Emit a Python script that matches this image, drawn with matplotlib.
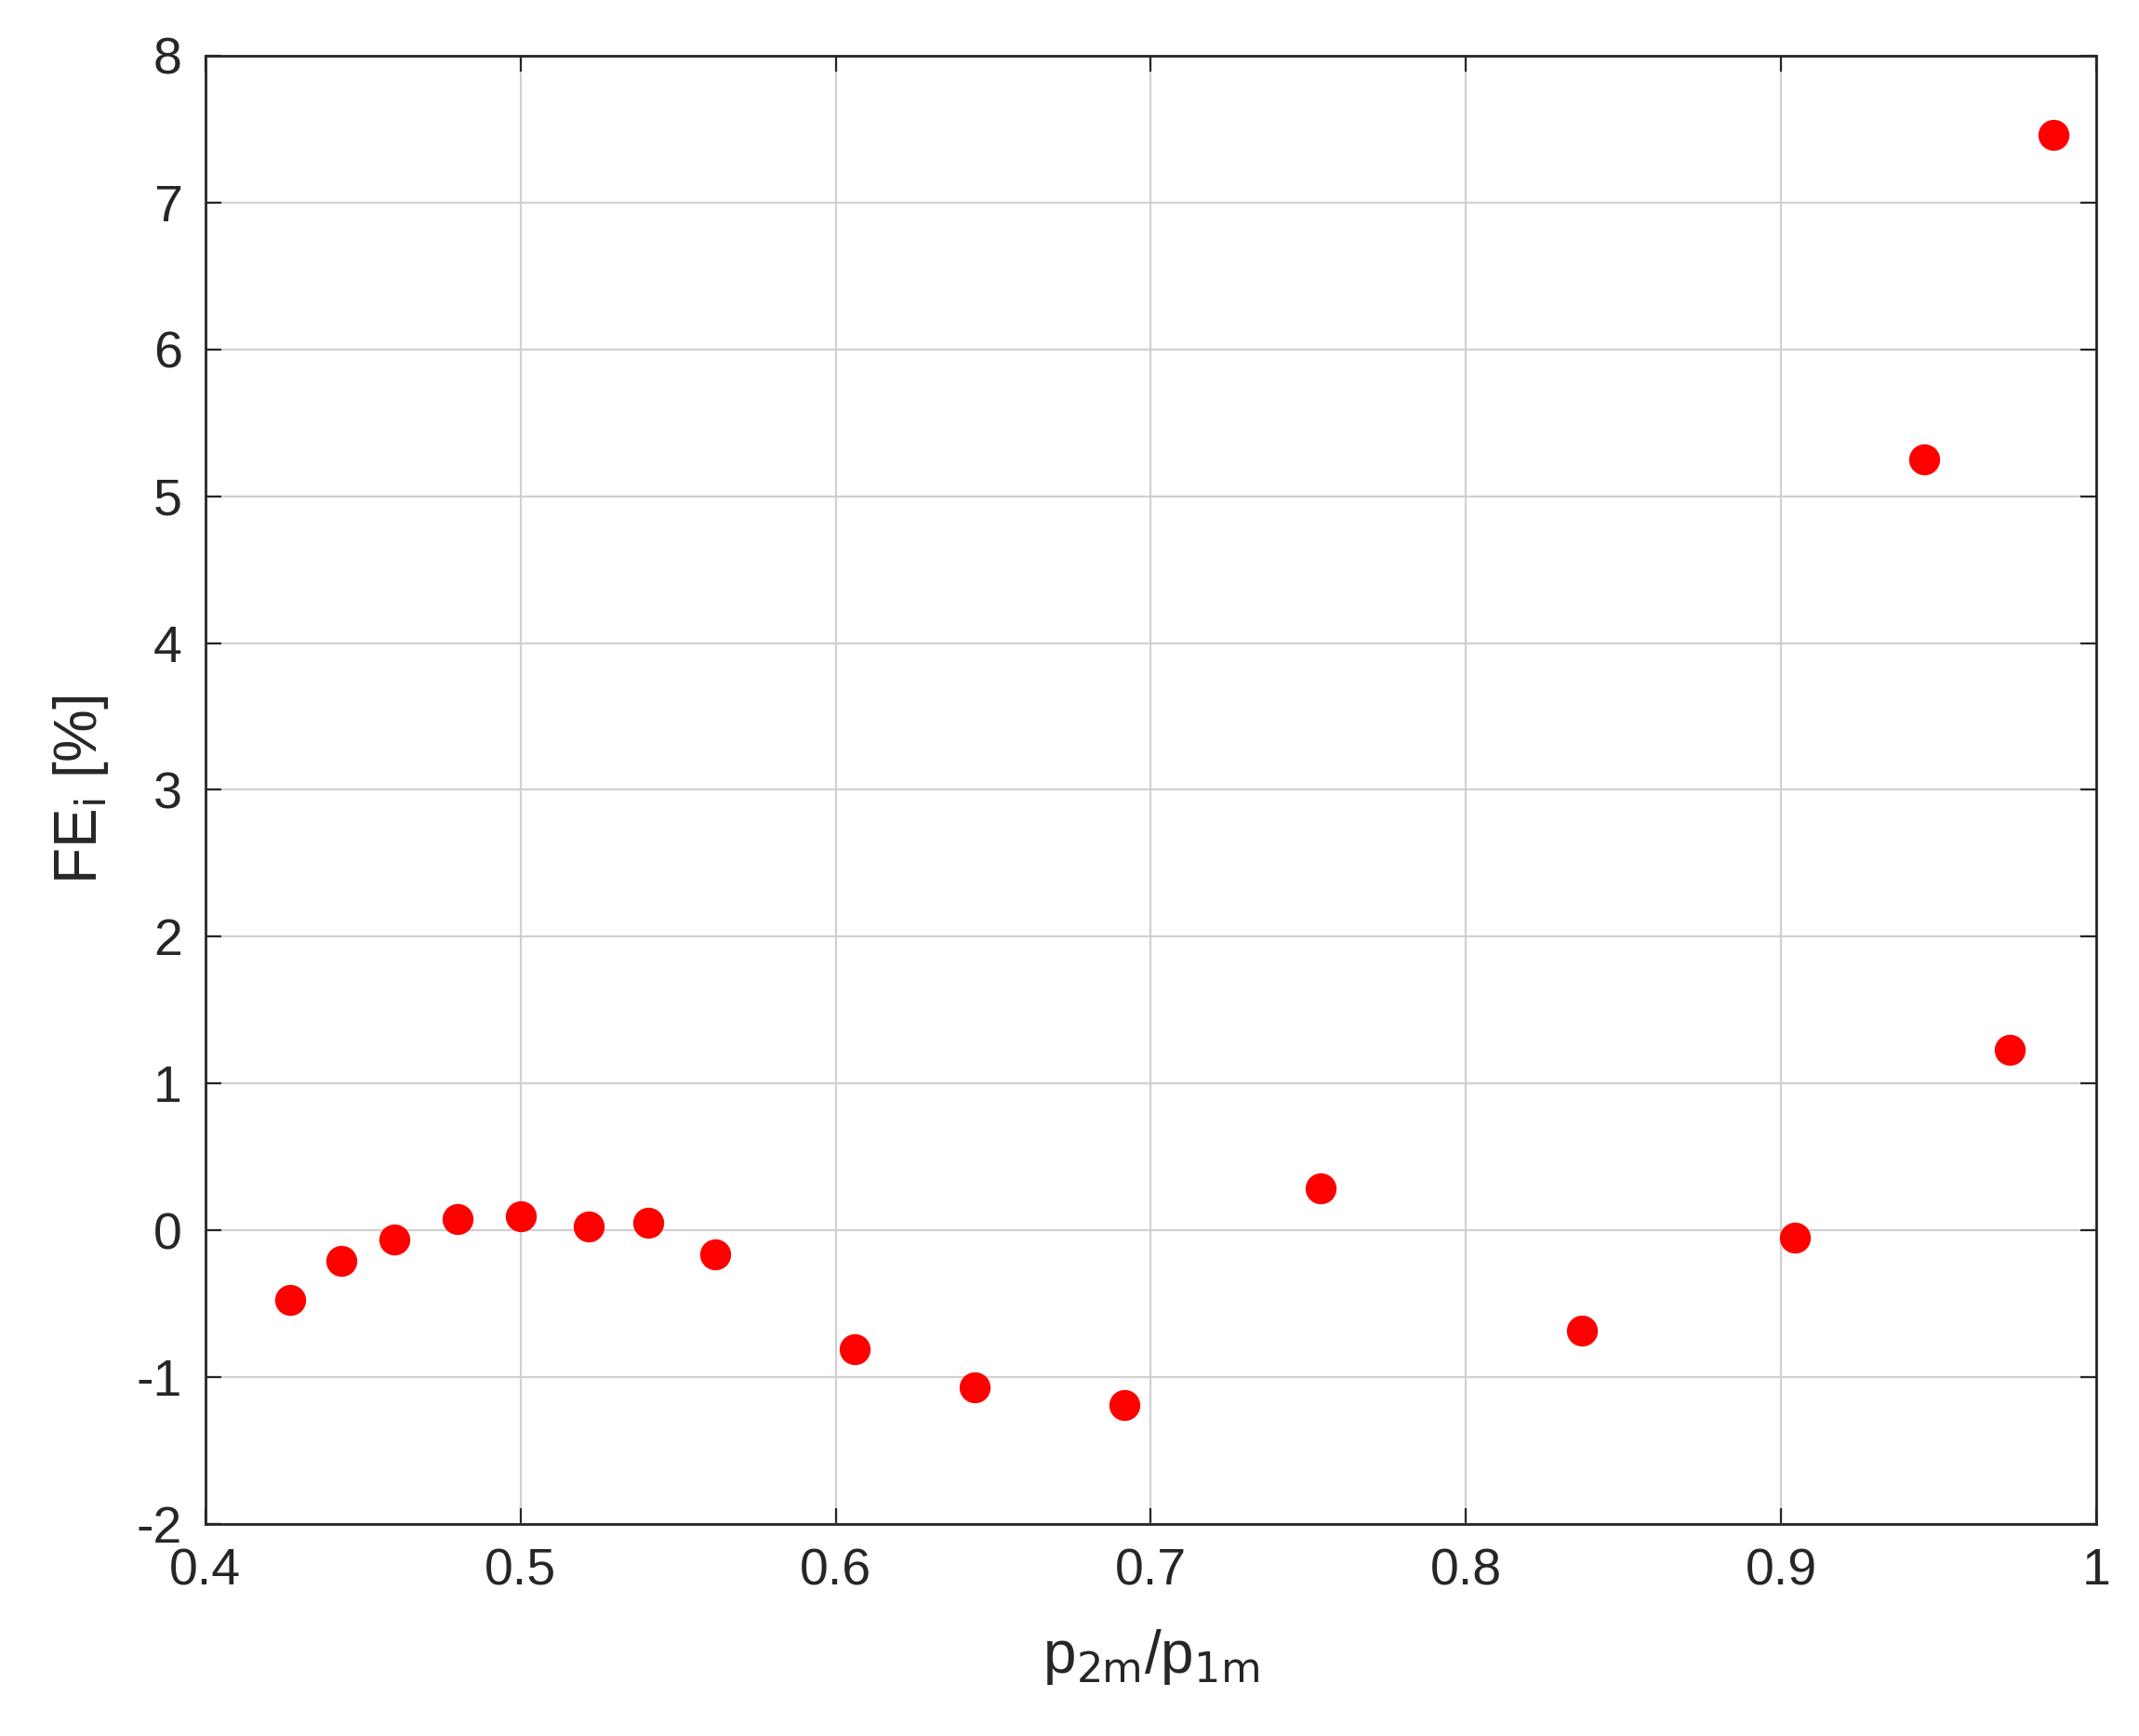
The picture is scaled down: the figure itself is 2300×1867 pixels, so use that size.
import matplotlib
matplotlib.use("Agg")
import matplotlib.pyplot as plt

plt.rcParams['font.family'] = ['Liberation Sans', 'DejaVu Sans']
plt.rcParams['axes.unicode_minus'] = False

# data
pressure_ratio = [0.4268, 0.443, 0.460, 0.480, 0.500, 0.5215, 0.5406, 0.5618,
                  0.606, 0.644, 0.6915, 0.7538, 0.8369, 0.9044, 0.9454, 0.9727, 0.9865]
fe_i = [-0.47, -0.21, -0.06, 0.08, 0.10, 0.03, 0.05, -0.16,
        -0.81, -1.07, -1.19, 0.29, -0.68, -0.05, 5.25, 1.23, 7.46]

fig = plt.figure(figsize=(11.5, 9.335), dpi=200)
ax = fig.add_axes([0.096, 0.122, 0.884, 0.846])

ax.plot(pressure_ratio, fe_i, 'o', color='red', markersize=12, markeredgewidth=0)

ax.set_xlim(0.4, 1.0)
ax.set_ylim(-2, 8)
ax.set_xticks([0.4, 0.5, 0.6, 0.7, 0.8, 0.9, 1.0])
ax.set_xticklabels(['0.4', '0.5', '0.6', '0.7', '0.8', '0.9', '1'])
ax.set_yticks(range(-2, 9))
ax.grid(True, color='#d0d0d0', linewidth=0.8)
ax.set_axisbelow(True)
ax.tick_params(labelsize=20, colors='#262626', direction='in', length=6,
               top=True, right=True, pad=9)
for s in ax.spines.values():
    s.set_color('#262626')
    s.set_linewidth(1.0)

ax.set_xlabel(r'p$_{\mathrm{2m}}$/p$_{\mathrm{1m}}$', fontsize=23, color='#262626', labelpad=12)
ax.set_ylabel(r'FE$_{\mathrm{i}}$ [%]', fontsize=23, color='#262626', labelpad=10)

fig.savefig('out.png')
